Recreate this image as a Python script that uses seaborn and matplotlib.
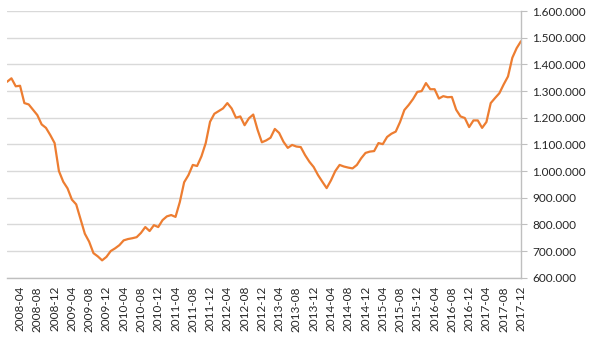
import matplotlib
matplotlib.use("Agg")
import matplotlib.pyplot as plt
import numpy as np
import pandas as pd
import seaborn as sns
from matplotlib.ticker import FuncFormatter, MultipleLocator

# monthly values, 2008-01 .. 2017-12 (thousands)
months = [str(p) for p in pd.period_range("2008-01", "2017-12", freq="M")]
values_k = [
    1335, 1348, 1318, 1320, 1255, 1250, 1230, 1210, 1175, 1162, 1135, 1105,
    1000, 960, 935, 893, 875, 820, 765, 735, 692, 680, 665, 678,
    700, 710, 722, 740, 745, 748, 752, 768, 790, 775, 797, 790,
    816, 830, 835, 828, 884, 958, 985, 1023, 1019, 1055, 1105, 1185,
    1215, 1225, 1235, 1255, 1235, 1200, 1205, 1172, 1198, 1212, 1155, 1108,
    1115, 1125, 1158, 1143, 1110, 1087, 1098, 1092, 1090, 1060, 1035, 1015,
    985, 960, 936, 965, 1000, 1023, 1017, 1013, 1010, 1023, 1048, 1068,
    1073, 1075, 1105, 1101, 1128, 1140, 1148, 1184, 1229, 1248, 1270, 1297,
    1300, 1330, 1307, 1307, 1272, 1281, 1277, 1278, 1230, 1205, 1199, 1165,
    1190, 1190, 1162, 1184, 1255, 1274, 1292, 1325, 1355, 1425, 1461, 1487,
]
values = [v * 1000 for v in values_k]

df = pd.DataFrame({"pos": np.arange(len(values)), "month": months, "value": values})

sns.set_style("white")
plt.rcParams["font.family"] = ["Lato", "DejaVu Sans"]

fig, ax = plt.subplots(figsize=(5.92, 3.37), dpi=100)
fig.subplots_adjust(left=0.012, right=0.880, top=0.967, bottom=0.176)

sns.lineplot(data=df, x="pos", y="value", color="#ED7D31", linewidth=1.6, ax=ax)

ax.set_xlim(0, len(months) - 1)
ax.set_ylim(600000, 1600000)
ax.yaxis.set_major_locator(MultipleLocator(100000))
ax.yaxis.set_major_formatter(FuncFormatter(lambda v, p: f"{int(v):,}".replace(",", ".")))
ax.yaxis.tick_right()
ax.grid(axis="y", color="#D9D9D9", linewidth=1)
ax.set_axisbelow(True)

label_pos = list(range(3, len(months), 4))
ax.set_xticks(label_pos)
ax.set_xticklabels([months[i] for i in label_pos], rotation=90)
ax.set_xticks(np.arange(len(months)), minor=True)

for side in ["top", "left"]:
    ax.spines[side].set_visible(False)
for side in ["right", "bottom"]:
    ax.spines[side].set_color("#BFBFBF")
    ax.spines[side].set_linewidth(1)

ax.tick_params(axis="x", which="both", length=4, color="#BFBFBF", labelsize=8.5, pad=2)
ax.tick_params(axis="y", length=4, color="#BFBFBF", labelsize=8.5, pad=4, right=True, left=False)
ax.set_xlabel("")
ax.set_ylabel("")

fig.savefig("out.png", dpi=100)
